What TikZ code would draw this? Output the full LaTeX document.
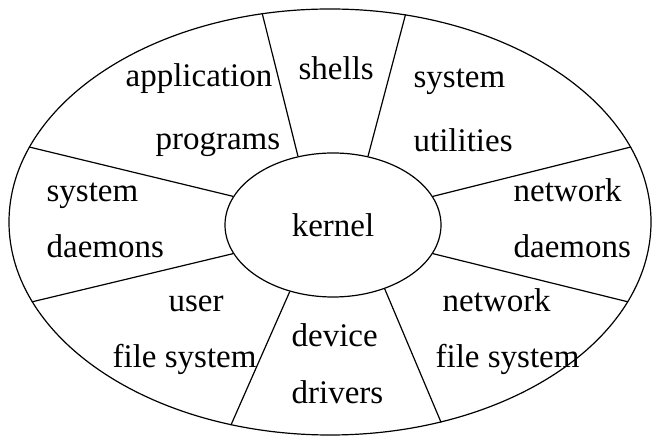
\documentclass[tikz,border=0pt]{standalone}
\usepackage{fontspec}
\setmainfont{Liberation Serif}
\usetikzlibrary{shapes.geometric}

\begin{document}
\begin{tikzpicture}[x=0.5pt, y=-0.5pt, line width=0.6pt,
   txt/.style={font=\fontsize{16.5}{20}\selectfont},
   layer/.style={txt, anchor=base west, inner sep=0pt}]
   \useasboundingbox (0,0) rectangle (653,437);

   % outer shell and the kernel in the middle
   \node[draw, ellipse, minimum width=321pt, minimum height=213pt, inner sep=0pt] (outer) at (330,222) {};
   \node[draw, ellipse, minimum width=108pt, minimum height=72pt, inner sep=0pt, txt] (kernel) at (333,225) {kernel};

   % dividers between the layers
   \foreach \a/\b in {117/108, 63/70, 16/14, 344/345, 309/299, 237/244, 196/195, 164/166}
      \draw (kernel.\a) -- (outer.\b);

   % layer labels
   \node[layer] (app)   at (125,87)  {application};
   \node[layer] (prog)  at (155,150) {programs};
   \node[layer] (shell) at (298,80)  {shells};
   \node[layer] (sysu)  at (413,88)  {system};
   \node[layer] (util)  at (413,152) {utilities};
   \node[layer] (sysd)  at (46,202)  {system};
   \node[layer] (sysdm) at (46,258)  {daemons};
   \node[layer] (netd)  at (513,202) {network};
   \node[layer] (netdm) at (513,258) {daemons};
   \node[layer] (netf)  at (442,312) {network};
   \node[layer] (netfs) at (435,368) {file system};
   \node[layer] (dev)   at (291,347) {device};
   \node[layer] (drv)   at (291,404) {drivers};
   \node[layer] (usr)   at (168,312) {user};
   \node[layer] (usrfs) at (112,368) {file system};
\end{tikzpicture}
\end{document}
